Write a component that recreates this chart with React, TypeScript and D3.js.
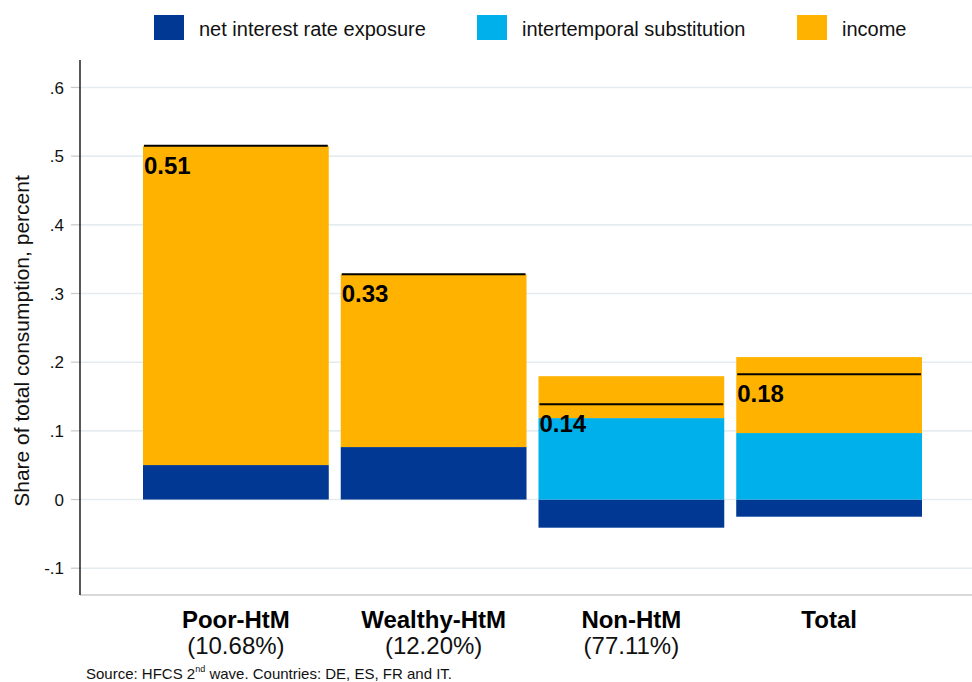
import * as d3 from "d3";

const categories = ["Poor-HtM", "Wealthy-HtM", "Non-HtM", "Total"];
const shares = ["(10.68%)", "(12.20%)", "(77.11%)", ""];
const netInterest = [0.0502, 0.0764, -0.041, -0.025];
const intertemporal = [0, 0, 0.1186, 0.0968];
const income = [0.4648, 0.2516, 0.061, 0.1106];
const totalLabels = ["0.51", "0.33", "0.14", "0.18"];
const yTicks = [-0.1, 0, 0.1, 0.2, 0.3, 0.4, 0.5, 0.6];

const seriesKeys = ["net", "inter", "income"];
const seriesNames = ["net interest rate exposure", "intertemporal substitution", "income"];
const colors = ["#003893", "#00b0ea", "#ffb300"];

function App() {
	const width = 972;
	const height = 682;
	const font = "'Liberation Sans', Arial, sans-serif";

	const y = d3.scaleLinear().domain([-0.139, 0.64]).range([595, 60]);
	const x = d3
		.scaleBand()
		.domain(categories)
		.range([143, 922])
		.paddingInner(12 / 198)
		.paddingOuter(0);

	const rows = categories.map((c, i) => ({
		cat: c,
		net: netInterest[i],
		inter: intertemporal[i],
		income: income[i],
	}));
	const stacked = d3
		.stack<any>()
		.keys(seriesKeys)
		.offset(d3.stackOffsetDiverging)(rows);

	const totals = rows.map((r) => r.net + r.inter + r.income);
	// stata style tick labels: ".1", "-.1"
	const fmt = (v: number) =>
		v === 0 ? "0" : d3.format(".1f")(v).replace("\u2212", "-").replace("0.", ".");

	const legendX = [154, 477, 797];

	return (
		<svg
			width={width}
			height={height}
			style={{ position: "absolute", left: 0, top: 0, background: "#fff" }}
			fontFamily={font}
		>
			{/* grid */}
			{yTicks.map((t) => (
				<g key={t}>
					<line x1={80} x2={972} y1={y(t)} y2={y(t)} stroke="#e4ecf0" strokeWidth={1.6} />
					<line x1={71} x2={80} y1={y(t)} y2={y(t)} stroke="#c8c8c8" strokeWidth={1.2} />
					<text x={64} y={y(t)} dy="0.36em" textAnchor="end" fontSize={17} fill="#111">
						{fmt(t)}
					</text>
				</g>
			))}
			<line x1={80} x2={972} y1={595} y2={595} stroke="#d9d9d9" strokeWidth={2} />
			<line x1={80} x2={80} y1={60} y2={595} stroke="#111" strokeWidth={1.4} />

			<text
				transform={`translate(28.5, 341) rotate(-90)`}
				textAnchor="middle"
				fontSize={21}
				fill="#111"
			>
				Share of total consumption, percent
			</text>

			{/* bars */}
			{stacked.map((s, si) => (
				<g key={s.key} fill={colors[si]}>
					{s.map((d, i) => {
						const h = Math.abs(y(d[0]) - y(d[1]));
						if (h < 0.01) return null;
						return (
							<rect
								key={i}
								x={x(categories[i])}
								y={Math.min(y(d[0]), y(d[1]))}
								width={x.bandwidth()}
								height={h}
							/>
						);
					})}
				</g>
			))}

			{/* total effect lines and labels */}
			{categories.map((c, i) => (
				<g key={c}>
					<line
						x1={(x(c) as number) + 1}
						x2={(x(c) as number) + x.bandwidth() - 1}
						y1={y(totals[i])}
						y2={y(totals[i])}
						stroke="#000"
						strokeWidth={2}
					/>
					<text
						x={(x(c) as number) + 1}
						y={y(totals[i]) + 28}
						fontSize={24}
						fontWeight="bold"
						fill="#000"
					>
						{totalLabels[i]}
					</text>
					<text
						x={(x(c) as number) + x.bandwidth() / 2}
						y={628}
						textAnchor="middle"
						fontSize={24}
						fontWeight="bold"
						fill="#000"
					>
						{c}
					</text>
					<text
						x={(x(c) as number) + x.bandwidth() / 2}
						y={654}
						textAnchor="middle"
						fontSize={24}
						fill="#111"
					>
						{shares[i]}
					</text>
				</g>
			))}

			{/* legend */}
			{seriesNames.map((n, i) => (
				<g key={n}>
					<rect x={legendX[i]} y={15} width={30} height={25} fill={colors[i]} />
					<text x={legendX[i] + 45} y={35.5} fontSize={20} fill="#111">
						{n}
					</text>
				</g>
			))}

			<text x={86} y={679} fontSize={15} fill="#111">
				Source: HFCS 2
				<tspan fontSize={9} dy={-7}>
					nd
				</tspan>
				<tspan dy={7}> wave. Countries: DE, ES, FR and IT.</tspan>
			</text>
		</svg>
	);
}

export default App;
